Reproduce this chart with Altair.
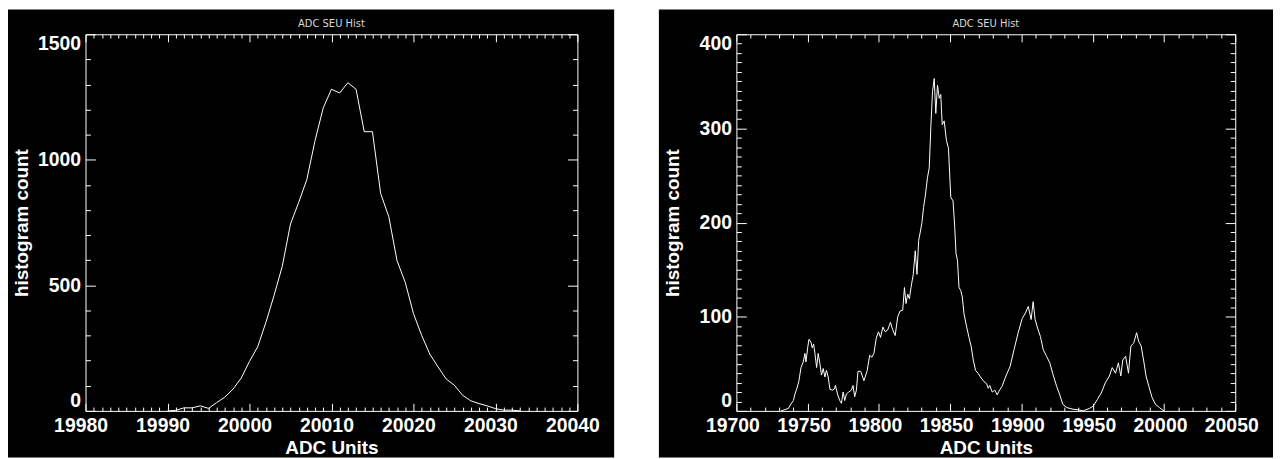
import altair as alt
import pandas as pd

# ---------------- data ----------------
left_adc = list(range(19990, 20034))
left_count = [0, 2, 12, 12, 20, 10, 33, 55, 87, 131, 197, 255, 352, 460, 576,
              744, 830, 922, 1077, 1207, 1281, 1266, 1307, 1281, 1112, 1112,
              866, 773, 598, 512, 388, 301, 226, 175, 127, 102, 62, 40, 29,
              20, 9, 3, 3, 0]

# right panel, first bump
right_adc_a = [19731.4, 19734.2, 19736.5, 19737.7, 19740.0, 19741.1, 19742.3,
               19743.9, 19745.3, 19746.9, 19748.1, 19748.8, 19750.0, 19750.9,
               19752.3, 19753.2, 19754.2, 19755.1, 19756.3, 19757.4, 19758.6,
               19759.7, 19760.9, 19762.1, 19763.2, 19764.4, 19765.6, 19767.2,
               19768.6, 19769.5, 19770.9, 19772.5, 19773.7, 19774.9, 19776.0,
               19777.2, 19778.8, 19780.7, 19781.8]
right_count_a = [0, 1.5, 2.6, 6, 11, 18, 23, 32, 46, 52, 61, 52, 67, 76, 73,
                 67, 71, 61, 46, 61, 50, 38, 45, 36, 43, 36, 23, 22, 23, 27,
                 18, 11, 8, 20, 11, 18, 20, 22, 27]

# right panel, main peak
right_adc_b = [19783.0, 19784.2, 19785.3, 19787.2, 19789.5, 19791.8, 19793.5,
               19795.1, 19796.5, 19798.1, 19799.7, 19801.1, 19802.8, 19804.4,
               19806.2, 19808.1, 19809.7, 19811.4, 19813.2, 19814.8, 19816.7,
               19817.9, 19819.0, 19820.2, 19821.4, 19822.5, 19824.1, 19825.5,
               19826.7, 19827.9, 19829.0, 19830.2, 19831.3, 19832.5, 19834.1,
               19835.3, 19836.5, 19837.6, 19838.8, 19839.9, 19841.1, 19842.3,
               19843.4, 19844.4, 19845.8, 19847.4, 19848.8, 19850.4, 19852.0,
               19853.2, 19854.1, 19855.1, 19856.2, 19857.4, 19858.5, 19859.7,
               19861.6, 19863.2, 19864.8, 19866.2, 19867.8, 19869.5, 19871.3,
               19873.7, 19875.5, 19876.7, 19877.8, 19879.5, 19881.3, 19883.0,
               19884.6, 19886.4]
right_count_b = [15, 22, 42, 42, 32, 43, 59, 57, 61, 77, 84, 78, 89, 84, 86,
                 94, 86, 80, 100, 106, 107, 131, 114, 124, 119, 131, 145, 170,
                 145, 181, 190, 200, 216, 228, 248, 258, 304, 339, 353, 316,
                 346, 332, 336, 304, 308, 287, 279, 227, 223, 195, 167, 160,
                 131, 128, 121, 103, 89, 78, 68, 54, 43, 40, 36, 31, 29, 24,
                 27, 20, 22, 17, 22, 26]

# right panel, last two bumps
right_adc_c = [19889.1, 19892.0, 19894.8, 19897.7, 19900.5, 19902.8, 19904.8,
               19906.8, 19908.2, 19909.6, 19911.3, 19913.3, 19915.3, 19917.6,
               19919.9, 19921.9, 19924.7, 19926.7, 19929.0, 19931.8, 19936.1,
               19940.4, 19943.2, 19947.5, 19950.4, 19953.2, 19956.0, 19958.9,
               19961.7, 19963.7, 19966.0, 19968.0, 19969.7, 19971.1, 19973.1,
               19975.1, 19976.8, 19978.8, 19980.8, 19982.2, 19984.0, 19986.0,
               19987.4, 19989.4, 19991.7, 19994.0, 19996.8, 20000.0]
right_count_c = [37, 47, 65, 83, 98, 104, 111, 97, 116, 97, 88, 79, 65, 58,
                 51, 40, 26, 18, 7, 3.5, 1.8, 1, 0, 2.5, 5, 12, 19, 30, 37,
                 46, 40, 51, 37, 54, 58, 40, 69, 72, 83, 74, 69, 51, 37, 26,
                 14, 7, 3.5, 0]

left_xticks = [19980, 19990, 20000, 20010, 20020, 20030, 20040]
left_yticks = [0, 500, 1000, 1500]
right_xticks = [19700, 19750, 19800, 19850, 19900, 19950, 20000, 20050]
right_yticks = [0, 100, 200, 300, 400]

title_text = "ADC SEU Hist"
x_title = "ADC Units"
y_title = "histogram count"

FG = "#ffffff"
FONT = "Liberation Sans"
LFS = 19.5   # tick label size
TFS = 19     # axis title size


def cond(test, major, minor):
    return {"condition": {"test": test, "value": major}, "value": minor}


def panel(adc, cnt, xdom, ydom, xmaj, xall, ymaj, yall, xmod, ymod,
          w, h, rect_right, xlab_off):
    df = pd.DataFrame({"adc": adc, "count": cnt})
    xs = alt.Scale(domain=xdom, nice=False, zero=False)
    ys = alt.Scale(domain=ydom, nice=False, zero=False)
    ymajor_len = round(0.02 * w, 1)
    xmajor_len = round(0.02 * h, 1)

    bg = alt.Chart(pd.DataFrame({"k": [0]})).mark_rect(color="black").encode(
        x=alt.value(-78), x2=alt.value(rect_right),
        y=alt.value(-25), y2=alt.value(426))

    head = alt.Chart(pd.DataFrame({"k": [0]})).mark_text(
        text=title_text, font="DejaVu Sans", fontSize=10, color="#d8d8d8",
        baseline="bottom", align="center").encode(
        x=alt.value(w / 2), y=alt.value(-5))

    base = alt.Chart(df)
    line1 = base.mark_line(color=FG, strokeWidth=1).encode(
        x=alt.X("adc:Q", scale=xs, axis=alt.Axis(
            orient="bottom", values=xmaj, ticks=False, domain=True,
            domainColor=FG, grid=False, format="d", labelFlush=False,
            labelOverlap=False, labelFont=FONT, labelFontSize=LFS,
            labelFontWeight="bold", labelColor=FG, labelPadding=6,
            labelOffset=xlab_off, title=x_title, titleFont=FONT,
            titleFontSize=TFS, titleFontWeight="bold", titleColor=FG,
            titleX=w / 2, titleY=43, titleBaseline="alphabetic",
            titleAlign="center", zindex=1)),
        y=alt.Y("count:Q", scale=ys, axis=alt.Axis(
            orient="left", values=ymaj, ticks=False, domain=True,
            domainColor=FG, grid=False, format="d", labelFlush=True,
            labelOverlap=False, labelFont=FONT, labelFontSize=LFS,
            labelFontWeight="bold", labelColor=FG, labelPadding=5,
            title=y_title, titleFont=FONT, titleFontSize=TFS,
            titleFontWeight="bold", titleColor=FG, titleX=-58, titleY=h / 2,
            titleAngle=270, titleBaseline="alphabetic", titleAlign="center",
            zindex=1)))

    # inward ticks on bottom and left edges
    line2 = base.mark_line(opacity=0).encode(
        x=alt.X("adc:Q", scale=xs, axis=alt.Axis(
            orient="top", offset=-h, values=xall, ticks=True,
            tickSize=cond(xmod, xmajor_len, xmajor_len / 2), tickColor=FG,
            labels=False, domain=False, grid=False, title=None, zindex=1)),
        y=alt.Y("count:Q", scale=ys, axis=alt.Axis(
            orient="right", offset=-w, values=yall, ticks=True,
            tickSize=cond(ymod, ymajor_len, ymajor_len / 2), tickColor=FG,
            labels=False, domain=False, grid=False, title=None, zindex=1)))

    # inward ticks + border on top and right edges
    line3 = base.mark_line(opacity=0).encode(
        x=alt.X("adc:Q", scale=xs, axis=alt.Axis(
            orient="bottom", offset=-h, values=xall, ticks=True,
            tickSize=cond(xmod, xmajor_len, xmajor_len / 2), tickColor=FG,
            labels=False, domain=True, domainColor=FG, grid=False,
            title=None, zindex=1)),
        y=alt.Y("count:Q", scale=ys, axis=alt.Axis(
            orient="left", offset=-w, values=yall, ticks=True,
            tickSize=cond(ymod, ymajor_len, ymajor_len / 2), tickColor=FG,
            labels=False, domain=True, domainColor=FG, grid=False,
            title=None, zindex=1)))

    return alt.layer(bg, line1, line2, line3, head).properties(width=w, height=h)


left = panel(left_adc, left_count, [19980, 20040], [0, 1500],
             left_xticks, list(range(19980, 20041, 1)),
             left_yticks, list(range(0, 1501, 100)),
             "datum.value % 10 === 0", "datum.value % 500 === 0",
             495, 379, 532, -5)
right = panel(right_adc_a + right_adc_b + right_adc_c,
              right_count_a + right_count_b + right_count_c,
              [19700, 20050], [0, 400],
              right_xticks, list(range(19700, 20051, 10)),
              right_yticks, list(range(0, 401, 10)),
              "datum.value % 50 === 0", "datum.value % 100 === 0",
              502, 379, 540, -4)

chart = alt.hconcat(left, right, spacing=45).properties(
    padding=0, background="white"
).configure_view(strokeWidth=0)

chart.save("out.html", embed_options={"renderer": "svg", "actions": False})
